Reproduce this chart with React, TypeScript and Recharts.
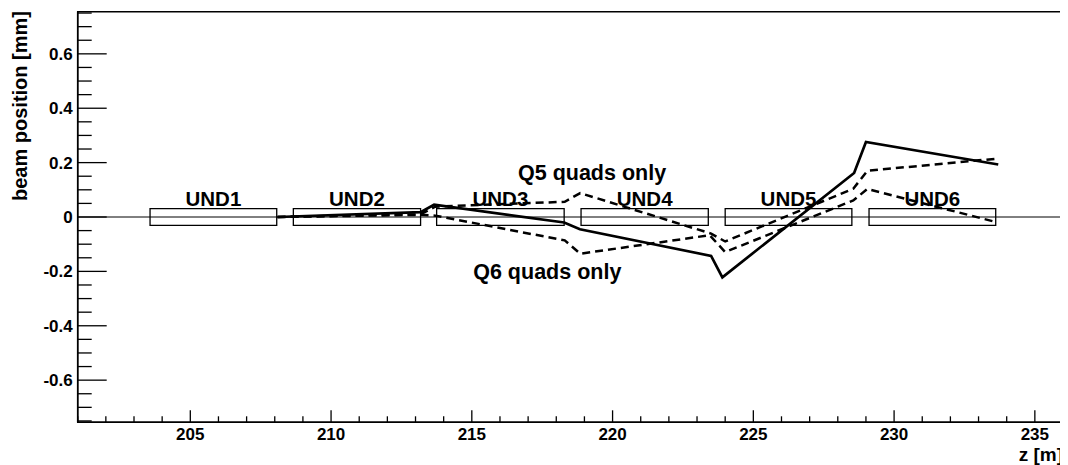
import React from 'react';
import {
  ComposedChart,
  Line,
  XAxis,
  YAxis,
  ReferenceArea,
  ReferenceLine,
  ReferenceDot,
  Label,
} from 'recharts';

// undulator sections (z in m)
const UND_NAMES = ['UND1', 'UND2', 'UND3', 'UND4', 'UND5', 'UND6'];
const UND_START = [203.57, 208.66, 213.75, 218.88, 224.0, 229.11];
const UND_END = [208.07, 213.18, 218.28, 223.4, 228.5, 233.61];

// beam position [mm] vs z [m]
const Z_BOTH = [208.1, 213.18, 213.66, 218.28, 218.84, 223.5, 223.9, 228.58, 229.0, 233.7];
const Y_BOTH = [0, 0.018, 0.045, -0.02, -0.045, -0.143, -0.222, 0.162, 0.276, 0.193];

const Z_Q5 = [208.1, 213.18, 213.7, 218.3, 218.85, 223.5, 224.0, 228.55, 229.05, 233.7];
const Y_Q5 = [0, 0.01, 0.038, 0.056, 0.088, -0.061, -0.09, 0.104, 0.17, 0.215];

const Z_Q6 = [208.1, 213.18, 213.7, 218.3, 218.85, 223.45, 224.0, 228.55, 229.05, 233.6];
const Y_Q6 = [0, 0.008, 0.005, -0.086, -0.135, -0.067, -0.129, 0.061, 0.103, -0.018];

// annotations: text, z, y (centre of caps)
const NOTE_TEXT = ['Q5 quads only', 'Q6 quads only'];
const NOTE_Z = [216.64, 215.05];
const NOTE_Y = [0.1625, -0.2];

const X_MAJOR = [205, 210, 215, 220, 225, 230, 235];
const Y_MAJOR = [-0.6, -0.4, -0.2, 0, 0.2, 0.4, 0.6];

const X_DOMAIN: [number, number] = [201, 236];
const Y_DOMAIN: [number, number] = [-0.755, 0.755];
const BOX_HALF = 0.031;

const X_TICKS: number[] = [];
for (let z = 201; z <= 236; z++) X_TICKS.push(z);
const Y_TICKS: number[] = [];
for (let i = -15; i <= 15; i++) Y_TICKS.push(Math.round(i * 5) / 100);

const FONT = '"Liberation Sans", Arial, Helvetica, sans-serif';

const toPoints = (zs: number[], ys: number[]) => zs.map((z, i) => ({ z, y: ys[i] }));

const bothData = toPoints(Z_BOTH, Y_BOTH);
const q5Data = toPoints(Z_Q5, Y_Q5);
const q6Data = toPoints(Z_Q6, Y_Q6);

function XTick(props: any) {
  const { x, y, payload } = props;
  const v = payload.value;
  const major = X_MAJOR.includes(v);
  return (
    <g>
      <line x1={x} x2={x} y1={y} y2={y - (major ? 12 : 6)} stroke="#000" strokeWidth={1.3} />
      {major && (
        <text x={x} y={y + 18} textAnchor="middle" fontFamily={FONT} fontWeight="bold" fontSize={17} fill="#000">
          {v}
        </text>
      )}
    </g>
  );
}

function YTick(props: any) {
  const { x, y, payload } = props;
  const v = payload.value;
  const major = Y_MAJOR.some((m) => Math.abs(m - v) < 1e-6);
  return (
    <g>
      <line x1={x} x2={x + (major ? 29 : 14)} y1={y} y2={y} stroke="#000" strokeWidth={1.3} />
      {major && (
        <text x={x - 5} y={y + 6} textAnchor="end" fontFamily={FONT} fontWeight="bold" fontSize={17} fill="#000">
          {String(Math.round(v * 10) / 10)}
        </text>
      )}
    </g>
  );
}

export default function App() {
  return (
    <div style={{ width: 1060, height: 457, background: '#fff' }}>
      <ComposedChart width={1060} height={457} margin={{ top: 3.7, right: 5, bottom: 0, left: 0 }}>
        <XAxis
          type="number"
          dataKey="z"
          domain={X_DOMAIN}
          ticks={X_TICKS}
          interval={0}
          allowDataOverflow
          tickLine={false}
          tickSize={0}
          tickMargin={0}
          tick={(p: any) => <XTick {...p} />}
          axisLine={{ stroke: '#000', strokeWidth: 1.5 }}
          height={42.7}
        >
          <Label
            content={() => (
              <text x={1055} y={453} textAnchor="end" fontFamily={FONT} fontWeight="bold" fontSize={19} fill="#000">
                z [m]
              </text>
            )}
          />
        </XAxis>
        <YAxis
          type="number"
          domain={Y_DOMAIN}
          ticks={Y_TICKS}
          interval={0}
          allowDataOverflow
          tickLine={false}
          tickSize={0}
          tickMargin={0}
          tick={(p: any) => <YTick {...p} />}
          axisLine={{ stroke: '#000', strokeWidth: 1.5 }}
          width={69.7}
        >
          <Label
            content={() => (
              <text
                transform="translate(19, 3) rotate(-90)"
                textAnchor="end"
                fontFamily={FONT}
                fontWeight="bold"
                fontSize={20}
                fill="#000"
              >
                beam position [mm]
              </text>
            )}
          />
        </YAxis>

        <ReferenceArea
          x1={X_DOMAIN[0]}
          x2={X_DOMAIN[1]}
          y1={Y_DOMAIN[0]}
          y2={Y_DOMAIN[1]}
          fill="none"
          fillOpacity={0}
          stroke="#000"
          strokeWidth={1.5}
        />
        <ReferenceLine y={0} stroke="#000" strokeWidth={1} />

        {UND_NAMES.map((name, i) => (
          <ReferenceArea
            key={name}
            x1={UND_START[i]}
            x2={UND_END[i]}
            y1={-BOX_HALF}
            y2={BOX_HALF}
            fill="none"
            fillOpacity={0}
            stroke="#000"
            strokeWidth={1.3}
            label={{
              value: name,
              position: 'top',
              offset: 3,
              fill: '#000',
              fontSize: 20.5,
              fontWeight: 'bold',
              fontFamily: FONT,
            }}
          />
        ))}

        {NOTE_TEXT.map((t, i) => (
          <ReferenceDot
            key={t}
            x={NOTE_Z[i]}
            y={NOTE_Y[i]}
            r={0}
            fill="none"
            stroke="none"
            label={{
              value: t,
              position: 'right',
              offset: 0,
              fill: '#000',
              fontSize: 21.5,
              fontWeight: 'bold',
              fontFamily: FONT,
            }}
          />
        ))}

        <Line
          data={q5Data}
          dataKey="y"
          type="linear"
          stroke="#000"
          strokeWidth={2.5}
          strokeDasharray="8 5"
          dot={false}
          activeDot={false}
          isAnimationActive={false}
        />
        <Line
          data={q6Data}
          dataKey="y"
          type="linear"
          stroke="#000"
          strokeWidth={2.5}
          strokeDasharray="8 5"
          dot={false}
          activeDot={false}
          isAnimationActive={false}
        />
        <Line
          data={bothData}
          dataKey="y"
          type="linear"
          stroke="#000"
          strokeWidth={2.7}
          dot={false}
          activeDot={false}
          isAnimationActive={false}
        />
      </ComposedChart>
    </div>
  );
}
